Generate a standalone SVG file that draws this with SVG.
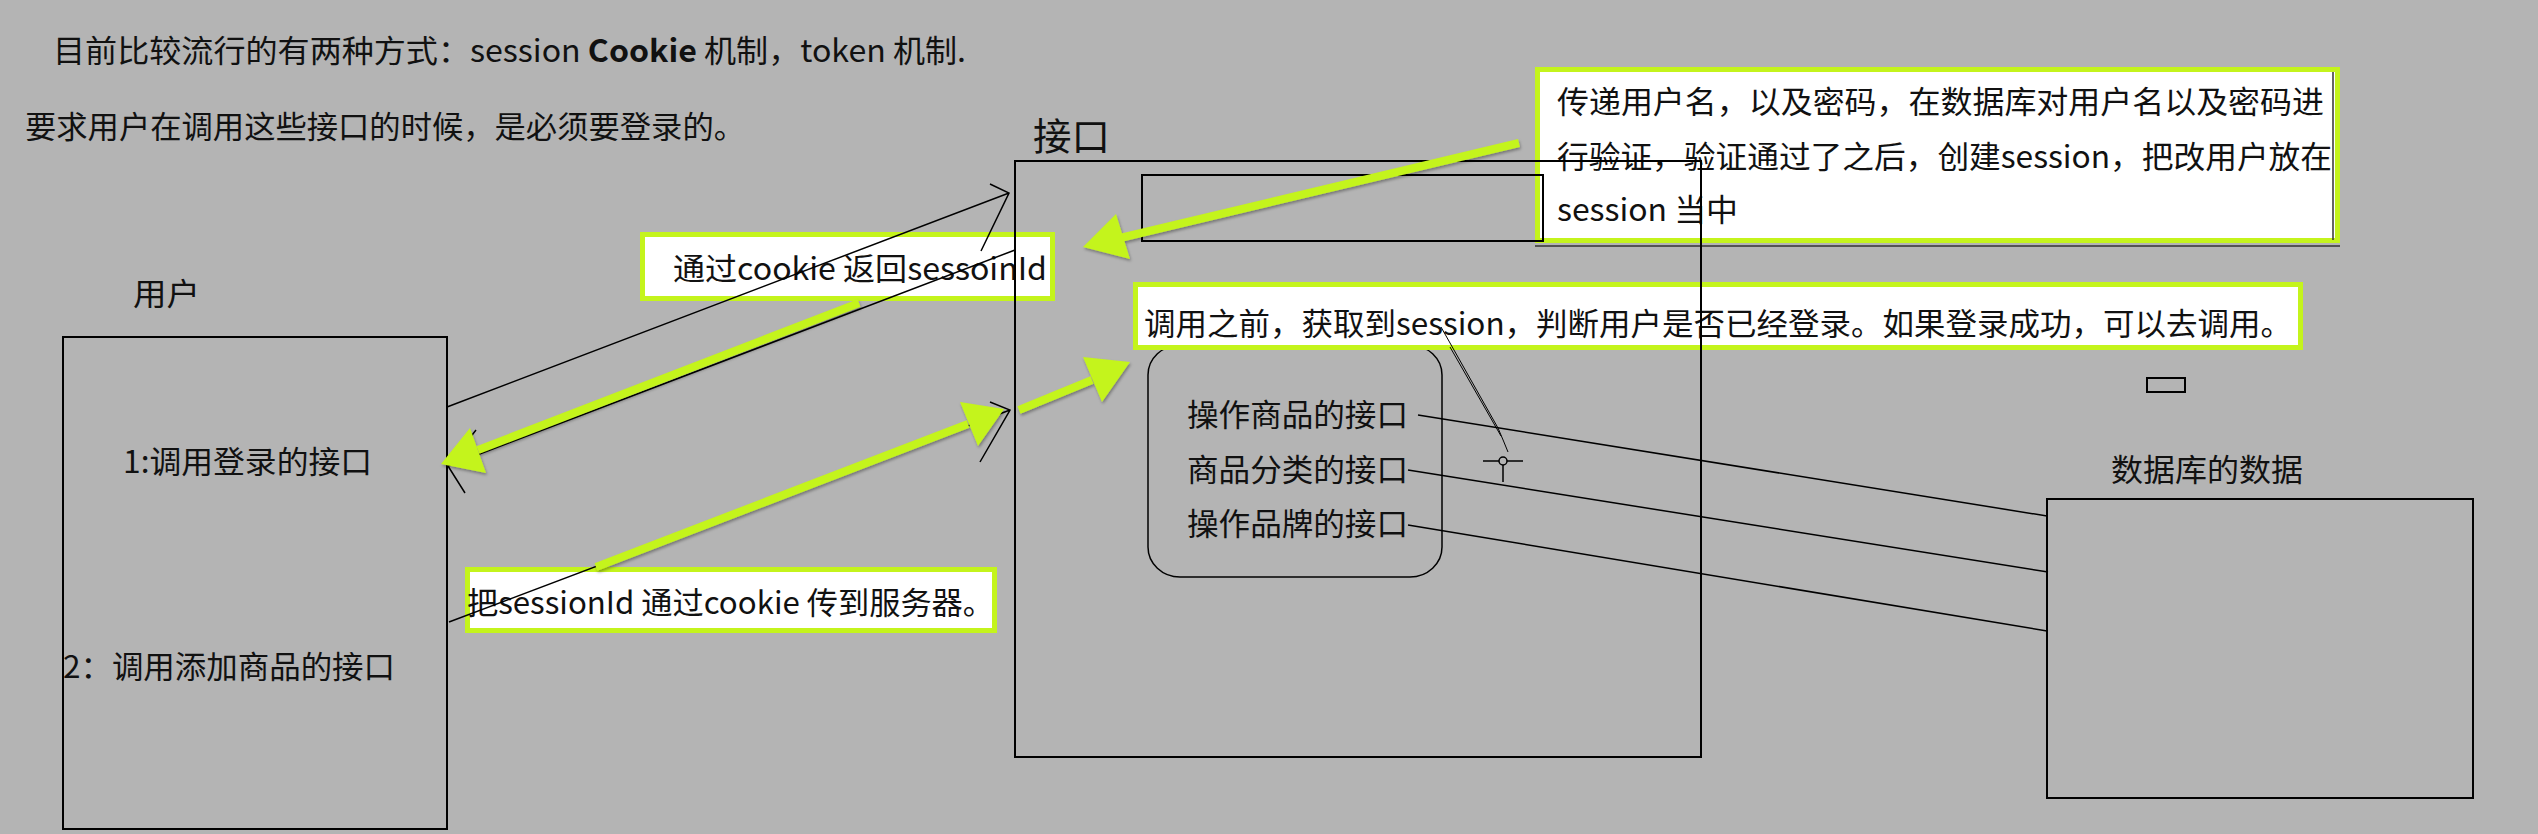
<svg xmlns="http://www.w3.org/2000/svg" width="2538" height="834" viewBox="0 0 2538 834">
<style>
  text { font-family: "Noto Sans CJK SC", "Microsoft YaHei", sans-serif; font-size: 31px; fill: #111; }
  .box { fill: none; stroke: #000; stroke-width: 2; }
  .thin { fill: none; stroke: #000; stroke-width: 1.5; }
  .callout { fill: #fff; stroke: #c4f41c; stroke-width: 5; }
  .gshaft { fill: none; stroke: #c4f41c; stroke-width: 8; }
  .ghead { fill: #c4f41c; }
</style>
<defs>
  <filter id="sh" x="-10%" y="-10%" width="120%" height="130%">
    <feDropShadow dx="1" dy="2" stdDeviation="1.5" flood-color="#000" flood-opacity="0.35"/>
  </filter>
</defs>
<rect x="0" y="0" width="2538" height="834" fill="#b4b4b4"/>

<g id="intro">
  <text x="53" y="62" textLength="913" lengthAdjust="spacingAndGlyphs">目前比较流行的有两种方式：session <tspan font-weight="bold">Cookie</tspan> 机制，token 机制.</text>
  <text x="25" y="138" textLength="720" lengthAdjust="spacingAndGlyphs">要求用户在调用这些接口的时候，是必须要登录的。</text>
</g>

<g id="user">
  <text x="133" y="305" textLength="67" lengthAdjust="spacingAndGlyphs">用户</text>
  <rect class="box" x="63" y="337" width="384" height="492"/>
  <text x="123" y="473" textLength="249" lengthAdjust="spacingAndGlyphs">1:调用登录的接口</text>
  <text x="63" y="678" textLength="332" lengthAdjust="spacingAndGlyphs">2：调用添加商品的接口</text>
</g>

<g id="callout-login">
  <rect class="callout" x="1537.5" y="69.5" width="800" height="171"/>
  <line x1="1535" y1="246" x2="2340" y2="246" stroke="#333" stroke-width="1.5"/>
  <line x1="2333" y1="72" x2="2333" y2="240" stroke="#333" stroke-width="1.5"/>
  <text x="1557" y="113" textLength="767" lengthAdjust="spacingAndGlyphs">传递用户名，以及密码，在数据库对用户名以及密码进</text>
  <text x="1557" y="168" textLength="775" lengthAdjust="spacingAndGlyphs">行验证，验证通过了之后，创建session，把改用户放在</text>
  <text x="1557" y="221" textLength="181" lengthAdjust="spacingAndGlyphs">session 当中</text>
</g>

<g id="callout-return">
  <rect class="callout" x="642.5" y="234.5" width="410" height="64"/>
  <text x="673" y="280" textLength="374" lengthAdjust="spacingAndGlyphs">通过cookie 返回sessoinId</text>
</g>

<g id="callout-send">
  <rect class="callout" x="467.5" y="569.5" width="527" height="61"/>
  <text x="467" y="614" textLength="527" lengthAdjust="spacingAndGlyphs">把sessionId 通过cookie 传到服务器。</text>
</g>

<g id="api-group">
  <rect class="thin" x="1148" y="345" width="294" height="232" rx="32" ry="30"/>
  <text x="1187" y="426" textLength="221" lengthAdjust="spacingAndGlyphs">操作商品的接口</text>
  <text x="1187" y="481" textLength="221" lengthAdjust="spacingAndGlyphs">商品分类的接口</text>
  <text x="1187" y="535" textLength="221" lengthAdjust="spacingAndGlyphs">操作品牌的接口</text>
</g>

<g id="callout-check">
  <rect class="callout" x="1135.5" y="284.5" width="1165" height="63"/>
  <text x="1144" y="335" textLength="1148" lengthAdjust="spacingAndGlyphs">调用之前，获取到session，判断用户是否已经登录。如果登录成功，可以去调用。</text>
</g>

<g id="interface">
  <text x="1033" y="150" style="font-size:38px" textLength="77" lengthAdjust="spacingAndGlyphs">接口</text>
  <rect class="box" x="1015" y="161" width="686" height="596"/>
  <rect class="box" x="1142" y="175" width="401" height="66"/>
</g>

<g id="database">
  <text x="2111" y="481" textLength="192" lengthAdjust="spacingAndGlyphs">数据库的数据</text>
  <rect class="box" x="2047" y="499" width="426" height="299"/>
  <rect class="box" x="2147" y="378" width="38" height="14"/>
</g>

<g id="connectors">
  <path class="thin" d="M447,407 L1009,193 M990,184 L1009,193 L981,251"/>
  <path class="thin" d="M1015,250 L448,466 M476,430 L448,466 L465,493"/>
  <path class="thin" d="M449,622 L1010,410 M990,402 L1010,410 L980,462"/>
  <path class="thin" d="M1418,415 L2047,516"/>
  <path class="thin" d="M1408,470 L2048,572"/>
  <path class="thin" d="M1408,525 L2047,631"/>
  <path fill="none" stroke="#000" stroke-width="1" d="M1441,327 L1498,428 Q1504,442 1508,452 M1450,347 L1501,436"/>
  <g id="cursor" fill="none" stroke="#000" stroke-width="1.5">
    <circle cx="1503" cy="461" r="4"/>
    <line x1="1483" y1="461" x2="1499" y2="461"/>
    <line x1="1507" y1="461" x2="1523" y2="461"/>
    <line x1="1503" y1="465" x2="1503" y2="482"/>
  </g>
  <g filter="url(#sh)">
    <line class="gshaft" x1="1519" y1="143" x2="1120" y2="238"/>
    <polygon class="ghead" points="1083,247 1116,214 1130,259"/>
    <line class="gshaft" x1="859" y1="303" x2="478" y2="450"/>
    <polygon class="ghead" points="441,464 470,428 486,473"/>
    <line class="gshaft" x1="596" y1="567" x2="968" y2="424"/>
    <polygon class="ghead" points="1004,409 960,402 978,446"/>
    <line class="gshaft" x1="1019" y1="410" x2="1092" y2="380"/>
    <polygon class="ghead" points="1130,362 1083,357 1102,402"/>
  </g>
</g>
</svg>
